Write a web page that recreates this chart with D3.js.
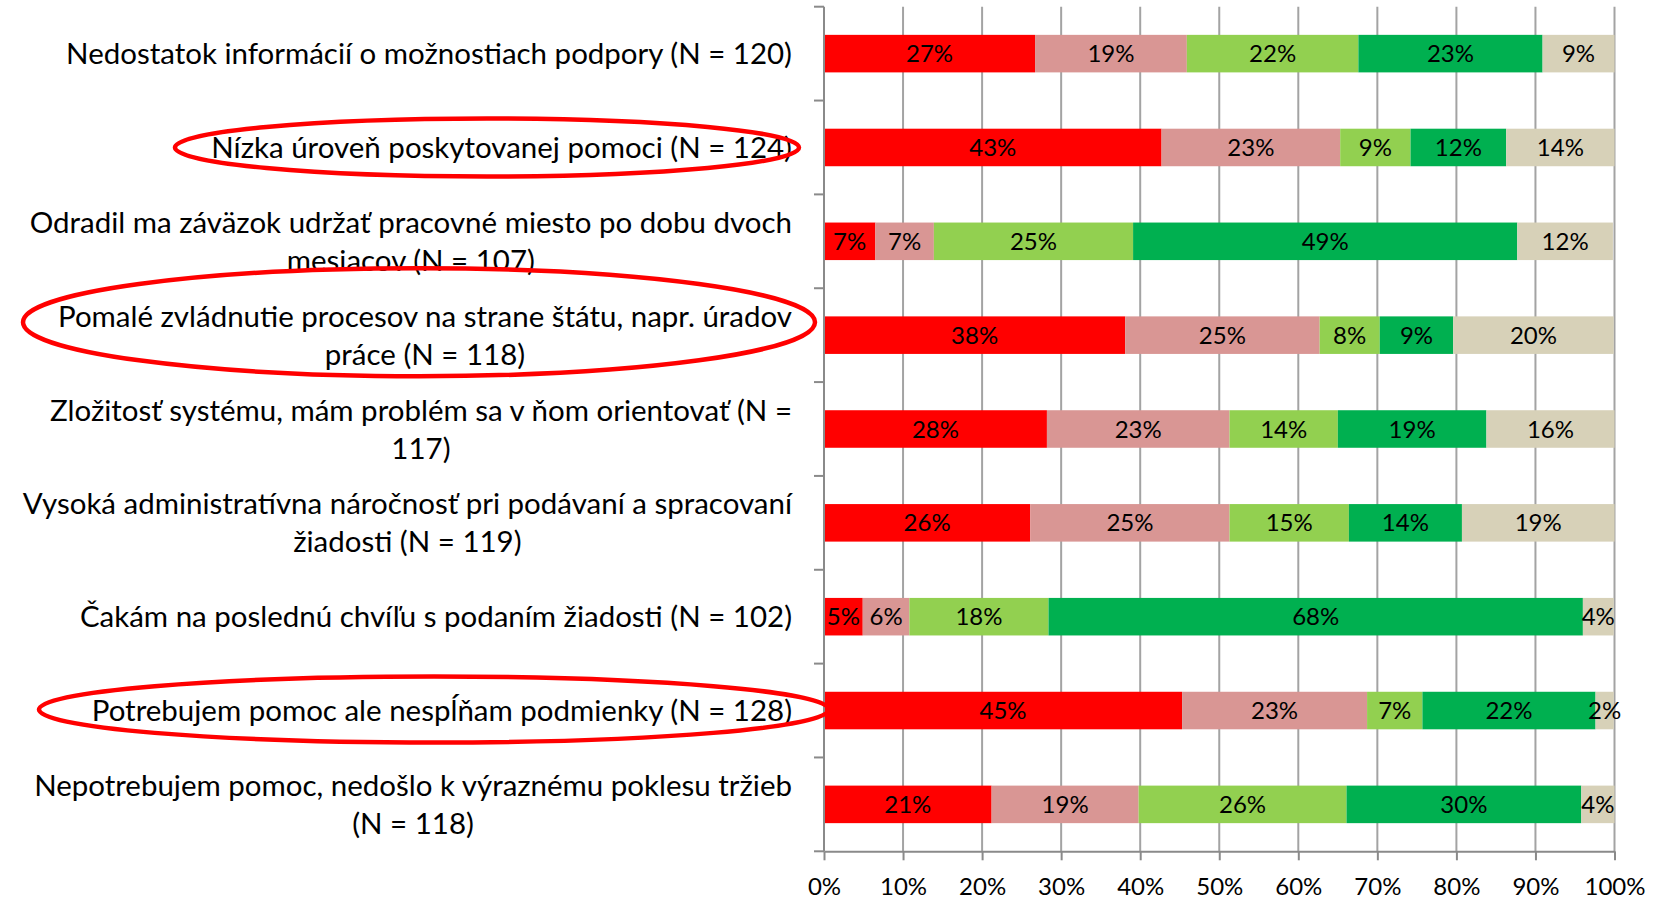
<!DOCTYPE html>
<html>
<head>
<meta charset="utf-8">
<script src="https://cdn.jsdelivr.net/npm/d3@7"></script>
<style>
body { margin: 0; background: #fff; }
svg { display: block; }
</style>
</head>
<body>
<div id="graf"></div>
<script>
// KATEGORIE (\n = zalomenie riadku ako v originali)
var kategorie = [
    "Nedostatok informácií o možnostiach podpory (N = 120)",
    "Nízka úroveň poskytovanej pomoci (N = 124)",
    "Odradil ma záväzok udržať pracovné miesto po dobu dvoch\nmesiacov (N = 107)",
    "Pomalé zvládnutie procesov na strane štátu, napr. úradov\npráce (N = 118)",
    "Zložitosť systému, mám problém sa v ňom orientovať (N =\n117)",
    "Vysoká administratívna náročnosť pri podávaní a spracovaní\nžiadosti (N = 119)",
    "Čakám na poslednú chvíľu s podaním žiadosti (N = 102)",
    "Potrebujem pomoc ale nespĺňam podmienky (N = 128)",
    "Nepotrebujem pomoc, nedošlo k výraznému poklesu tržieb\n(N = 118)"
];

// HODNOTY V %
var seria1 = [26.7, 42.7, 6.5, 38.1, 28.2, 26.1, 4.9, 45.3, 21.2];
var seria2 = [19.2, 22.6, 7.4, 24.6, 23.1, 25.2, 5.9, 23.4, 18.6];
var seria3 = [21.7, 8.9, 25.2, 7.6, 13.7, 15.1, 17.6, 7.0, 26.3];
var seria4 = [23.3, 12.1, 48.6, 9.3, 18.8, 14.3, 67.6, 21.9, 29.7];
var seria5 = [9.2, 13.7, 12.1, 20.3, 16.2, 19.3, 3.9, 2.3, 4.2];

var farby = ['#FF0000', '#D99694', '#92D050', '#00B050', '#D7D1B8'];
var xTicky = [0, 10, 20, 30, 40, 50, 60, 70, 80, 90, 100];

// cervene elipsy okolo vybranych popisov
var zvyraznene = [
    { kat: 1, cx: 487, rx: 312, ry: 29, dy: 0 },
    { kat: 3, cx: 419, rx: 396, ry: 54, dy: -13 },
    { kat: 7, cx: 434, rx: 395, ry: 33, dy: -1 }
];

var width = 1659, height = 900;
var font = 'Lato, Carlito, Calibri, sans-serif';

var svg = d3.select('#graf').append('svg')
    .attr('width', width)
    .attr('height', height);

// tabulka pre d3.stack
var kluce = ['s1', 's2', 's3', 's4', 's5'];
var tabulka = kategorie.map(function (k, i) {
    return { kat: k, s1: seria1[i], s2: seria2[i], s3: seria3[i], s4: seria4[i], s5: seria5[i] };
});
var stack = d3.stack().keys(kluce)(tabulka);

// SKALY
var x = d3.scaleLinear().domain([0, 100]).range([824, 1614.5]);
var y = d3.scaleBand().domain(kategorie).range([6.7, 851.3]).paddingInner(0.6).paddingOuter(0.3);
var krok = y.step();
var top0 = y.range()[0], dno = y.range()[1];

// velkost pisma - prisposobime sirke ako v originali
var meranie = svg.append('text').attr('font-family', font).attr('font-size', 30).text(kategorie[0]);
var fsKat = 30 * 726 / meranie.node().getComputedTextLength();
meranie.attr('font-size', 30).text('100%');
var fsNum = 30 * 61 / meranie.node().getComputedTextLength();
meranie.remove();

// MRIEZKA
svg.append('g').selectAll('line').data(xTicky.slice(1)).join('line')
    .attr('x1', function (d) { return x(d); })
    .attr('x2', function (d) { return x(d); })
    .attr('y1', top0).attr('y2', dno)
    .attr('stroke', '#A3A3A3').attr('stroke-width', 2);

// STLPCE
var vrstvy = svg.append('g').selectAll('g').data(stack).join('g')
    .attr('fill', function (d, i) { return farby[i]; });

vrstvy.selectAll('rect').data(function (d) { return d; }).join('rect')
    .attr('x', function (d) { return x(d[0]); })
    .attr('width', function (d) { return Math.min(x(d[1]), x(100)) - x(d[0]); })
    .attr('y', function (d) { return y(d.data.kat); })
    .attr('height', y.bandwidth());

// POPISY HODNOT
var fmt = d3.format('.0f');
svg.append('g').selectAll('g').data(stack).join('g')
    .selectAll('text').data(function (d) { return d; }).join('text')
    .attr('x', function (d) { return (x(d[0]) + Math.min(x(d[1]), x(100))) / 2; })
    .attr('y', function (d) { return y(d.data.kat) + y.bandwidth() / 2; })
    .attr('dy', '0.36em')
    .attr('text-anchor', 'middle')
    .attr('font-family', font)
    .attr('font-size', fsNum + 'px')
    .attr('fill', '#000')
    .text(function (d) { return fmt(d[1] - d[0]) + '%'; });

// OSI
var farbaOsi = '#8A8A8A';
svg.append('line')
    .attr('x1', x(0)).attr('x2', x(0)).attr('y1', top0).attr('y2', dno)
    .attr('stroke', farbaOsi).attr('stroke-width', 2);
svg.append('g').selectAll('line').data(d3.range(kategorie.length + 1)).join('line')
    .attr('x1', x(0) - 10).attr('x2', x(0))
    .attr('y1', function (i) { return top0 + i * krok; })
    .attr('y2', function (i) { return top0 + i * krok; })
    .attr('stroke', farbaOsi).attr('stroke-width', 2);

var osX = svg.append('g')
    .attr('transform', 'translate(0,' + dno + ')')
    .call(d3.axisBottom(x).tickValues(xTicky).tickFormat(function (d) { return d + '%'; })
        .tickSizeInner(9).tickSizeOuter(0).tickPadding(18));
osX.select('.domain').attr('stroke', farbaOsi).attr('stroke-width', 2);
osX.selectAll('.tick line').attr('stroke', farbaOsi).attr('stroke-width', 2);
osX.selectAll('.tick text')
    .attr('font-family', font)
    .attr('font-size', fsNum + 'px')
    .attr('fill', '#000');

// POPISY KATEGORII
var pravyOkraj = 792;
var riadok = 38;
var popisy = svg.append('g').selectAll('g').data(kategorie).join('g');
popisy.each(function (k) {
    var g = d3.select(this);
    var riadky = k.split('\n');
    var stred = y(k) + y.bandwidth() / 2;
    var texty = g.selectAll('text').data(riadky).join('text')
        .attr('font-family', font)
        .attr('font-size', fsKat + 'px')
        .attr('fill', '#000')
        .attr('text-anchor', 'middle')
        .attr('dy', '0.36em')
        .attr('y', function (d, i) { return stred + (i - (riadky.length - 1) / 2) * riadok; })
        .text(function (d) { return d; });
    var maxSirka = d3.max(texty.nodes(), function (n) { return n.getComputedTextLength(); });
    texty.attr('x', pravyOkraj - maxSirka / 2);
});

// ELIPSY
svg.append('g').selectAll('ellipse').data(zvyraznene).join('ellipse')
    .attr('cx', function (d) { return d.cx; })
    .attr('cy', function (d) { return y(kategorie[d.kat]) + y.bandwidth() / 2 + d.dy; })
    .attr('rx', function (d) { return d.rx; })
    .attr('ry', function (d) { return d.ry; })
    .attr('fill', 'none')
    .attr('stroke', '#FF0000')
    .attr('stroke-width', 4.5);
</script>
</body>
</html>
